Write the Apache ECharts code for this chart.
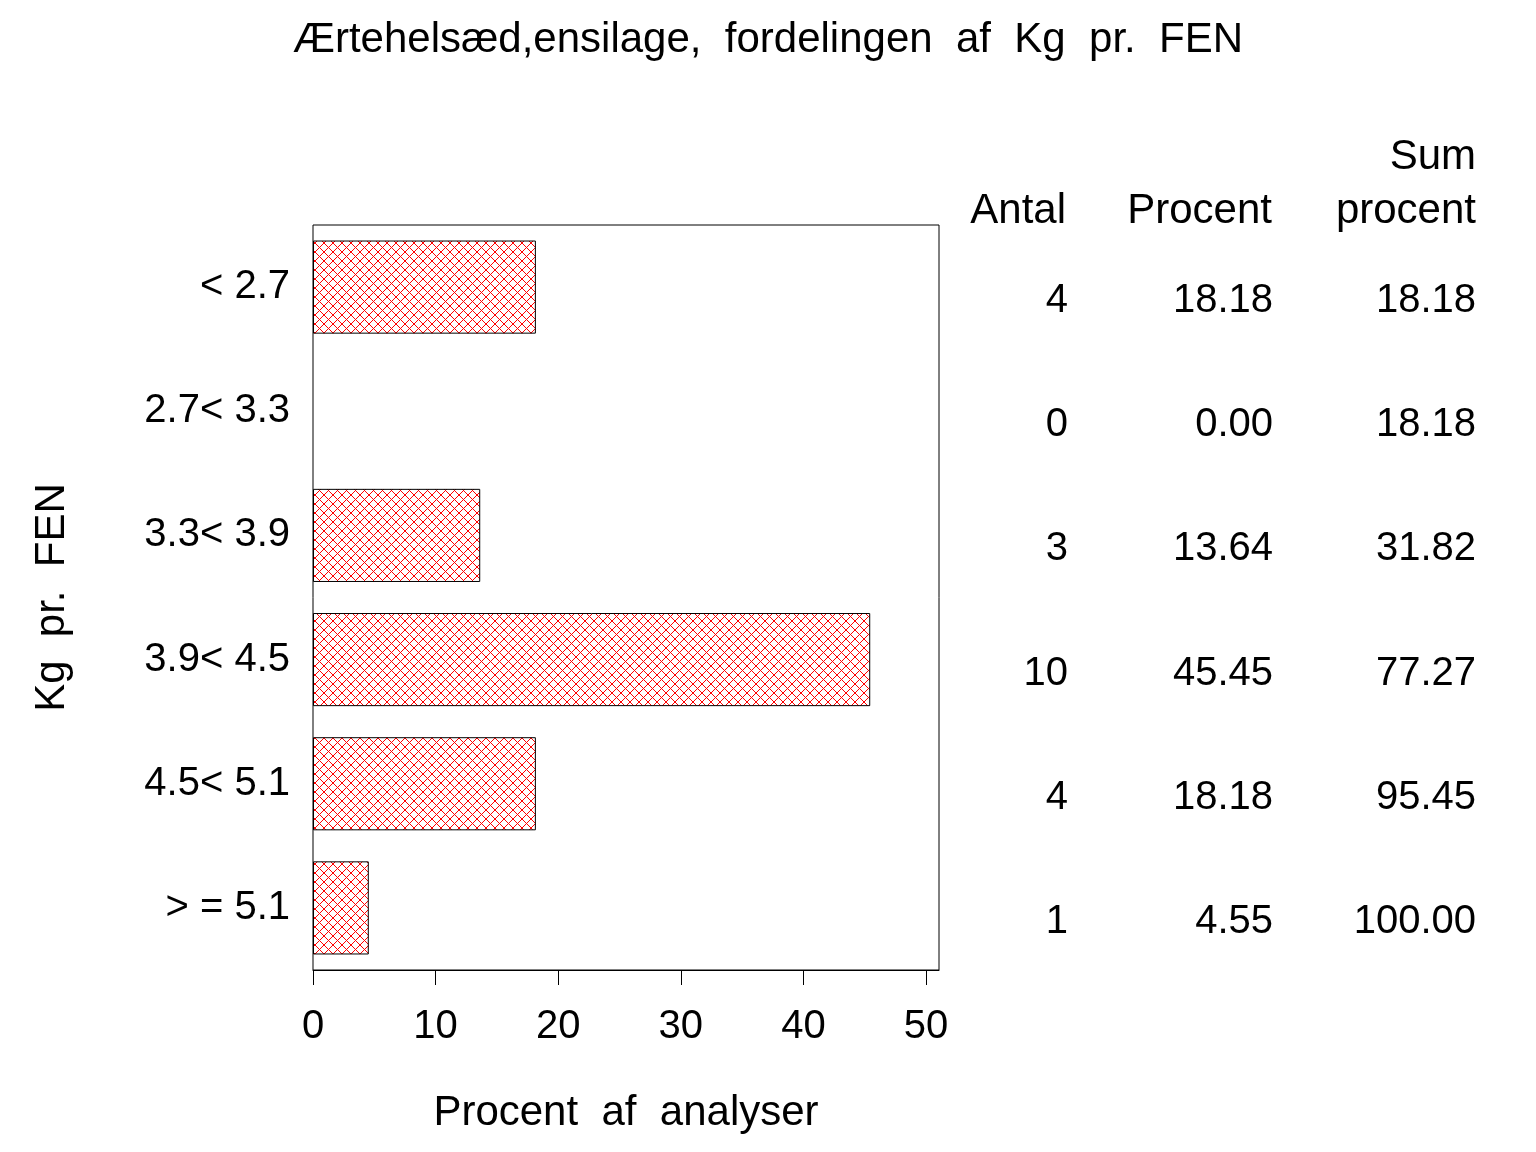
<!DOCTYPE html>
<html>
<head>
<meta charset="utf-8">
<script src="https://cdn.jsdelivr.net/npm/echarts@6/dist/echarts.min.js"></script>
<style>
  html, body { margin: 0; padding: 0; background: #fff; }
  #chart { width: 1536px; height: 1152px; }
</style>
</head>
<body>
<div id="chart"></div>
<script>
// data
var categories = ['< 2.7', '2.7< 3.3', '3.3< 3.9', '3.9< 4.5', '4.5< 5.1', '> = 5.1'];
var percentValues = [18.18, 0, 13.64, 45.45, 18.18, 4.55];
var antal = ['4', '0', '3', '10', '4', '1'];
var procent = ['18.18', '0.00', '13.64', '45.45', '18.18', '4.55'];
var sumProcent = ['18.18', '18.18', '31.82', '77.27', '95.45', '100.00'];
var xTicks = [0, 10, 20, 30, 40, 50];

var FONT = 'Liberation Sans';

// red cross hatch fill
function makeHatch() {
    var c = document.createElement('canvas');
    c.width = 9;
    c.height = 9;
    var ctx = c.getContext('2d');
    ctx.strokeStyle = '#ff0000';
    ctx.lineWidth = 1;
    ctx.beginPath();
    ctx.moveTo(0, 0); ctx.lineTo(9, 9);
    ctx.moveTo(9, 0); ctx.lineTo(0, 9);
    ctx.stroke();
    return c;
}

// right-hand table column as an extra category axis
function tableAxis(values, margin) {
    return {
        type: 'category',
        position: 'right',
        inverse: true,
        data: categories,
        axisLine: { show: false },
        axisTick: { show: false },
        axisLabel: {
            margin: margin,
            align: 'right',
            verticalAlign: 'top',
            lineHeight: 28,
            fontFamily: FONT,
            fontSize: 40,
            color: '#000',
            formatter: function (v, i) { return values[i]; }
        }
    };
}

// empty bars get no outline
var barData = percentValues.map(function (v) {
    return v === 0 ? { value: v, itemStyle: { borderWidth: 0 } } : v;
});

var chart = echarts.init(document.getElementById('chart'));

var headFont = '42px "Liberation Sans"';

var option = {
    backgroundColor: '#fff',
    animation: false,
    title: {
        text: 'Ærtehelsæd,ensilage,  fordelingen  af  Kg  pr.  FEN',
        left: 'center',
        top: 14,
        textStyle: { fontFamily: FONT, fontSize: 42, fontWeight: 'normal', color: '#000' }
    },
    grid: {
        left: 313,
        right: 597,
        top: 225,
        bottom: 182,
        show: true,
        borderColor: '#000',
        borderWidth: 1,
        backgroundColor: 'transparent'
    },
    xAxis: {
        type: 'value',
        min: 0,
        max: 51.06,
        interval: 10,
        name: 'Procent  af  analyser',
        nameLocation: 'middle',
        nameGap: 122,
        nameTextStyle: { fontFamily: FONT, fontSize: 42, color: '#000' },
        splitLine: { show: false },
        axisLine: { show: true, lineStyle: { color: '#000', width: 1 } },
        axisTick: {
            show: true,
            length: 15,
            customValues: xTicks,
            lineStyle: { color: '#000', width: 1 }
        },
        axisLabel: {
            margin: 37,
            customValues: xTicks,
            fontFamily: FONT,
            fontSize: 40,
            color: '#000'
        }
    },
    yAxis: [
        {
            type: 'category',
            inverse: true,
            data: categories,
            name: 'Kg  pr.  FEN',
            nameLocation: 'middle',
            nameGap: 240,
            nameRotate: 90,
            nameTextStyle: { fontFamily: FONT, fontSize: 42, color: '#000' },
            axisLine: { show: false },
            axisTick: { show: false },
            axisLabel: {
                margin: 23,
                fontFamily: FONT,
                fontSize: 40,
                color: '#000'
            }
        },
        tableAxis(antal, 129),
        tableAxis(procent, 334),
        tableAxis(sumProcent, 537)
    ],
    graphic: [
        { type: 'text', x: 1066, y: 211, style: { text: 'Antal', align: 'right', verticalAlign: 'middle', font: headFont, fill: '#000' } },
        { type: 'text', x: 1272, y: 211, style: { text: 'Procent', align: 'right', verticalAlign: 'middle', font: headFont, fill: '#000' } },
        { type: 'text', x: 1476, y: 157, style: { text: 'Sum', align: 'right', verticalAlign: 'middle', font: headFont, fill: '#000' } },
        { type: 'text', x: 1476, y: 211, style: { text: 'procent', align: 'right', verticalAlign: 'middle', font: headFont, fill: '#000' } }
    ],
    series: [{
        type: 'bar',
        data: barData,
        barWidth: '75%',
        itemStyle: {
            color: { image: makeHatch(), repeat: 'repeat' },
            borderColor: '#000',
            borderWidth: 1
        }
    }]
};

chart.setOption(option);
</script>
</body>
</html>
